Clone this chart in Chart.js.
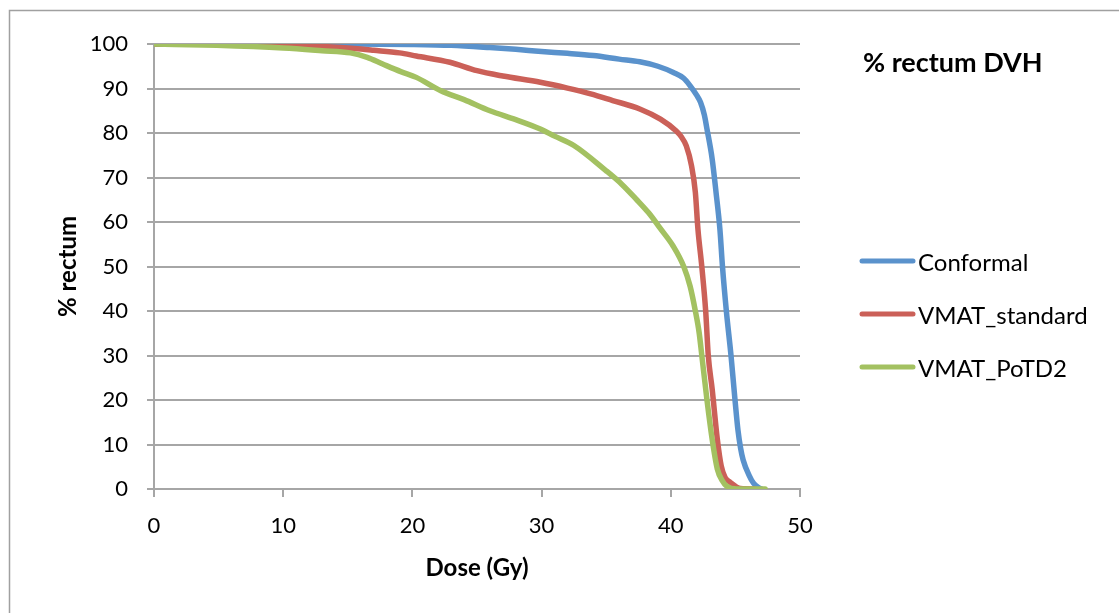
<!DOCTYPE html>
<html>
<head>
<meta charset="utf-8">
<script src="https://cdn.jsdelivr.net/npm/chart.js@4"></script>
<style>
  html, body { margin: 0; padding: 0; background: #fff; }
  #wrap { width: 1119px; height: 613px; position: relative; }
</style>
</head>
<body>
<div id="wrap"><canvas id="myChart"></canvas></div>
<script>
// DVH curves: [dose Gy, % rectum]
var conformal = [
  [0,100],[10,100],[15,100],[20,99.9],[23,99.7],[26,99.2],[28,98.8],[30,98.3],
  [32,97.9],[34,97.4],[36,96.6],[37.6,96.0],[39,95.0],[40.2,93.6],[41,92.3],
  [41.5,90.6],[42,88.5],[42.3,86.9],[42.6,84.0],[42.8,80.9],[43.2,74.2],
  [43.5,66.7],[43.8,58.4],[44.0,50],[44.3,40],[44.66,30],[44.97,20],
  [45.2,13.2],[45.4,9.2],[45.6,6.5],[46.07,3.0],[46.4,1.3],[46.75,0.4],[47.0,0]
];
var vmatStandard = [
  [0,100],[5,100],[8.7,99.8],[12.6,99.5],[15.5,99.0],[17,98.6],[19,98.0],
  [20.3,97.3],[22.9,95.9],[25,94.0],[27,92.8],[29.9,91.4],[32,90.1],[33.8,88.8],
  [35.5,87.3],[37.6,85.4],[39.2,83.1],[40.4,80.5],[40.8,79.2],[41.2,77.1],
  [41.6,72.7],[41.9,66.7],[42.1,58.4],[42.4,50],[42.7,40],[42.9,30],[43.2,22.5],
  [43.6,11.2],[43.9,5.2],[44.2,2.6],[44.6,1.5],[45.4,0.1],[46.5,0]
];
var vmatPotd2 = [
  [0,100],[4.85,99.7],[10,99.1],[13,98.5],[15.2,98.0],[16.5,97.0],[17.7,95.5],
  [19.1,93.8],[20.3,92.5],[22.2,89.5],[24,87.5],[26,85.0],[28,83.0],[29.9,80.9],
  [31,79.3],[32.5,77.2],[35,71.5],[36.2,68.5],[37.3,65.2],[38.3,62.0],[39.2,58.5],
  [40.2,54.5],[41,50],[41.5,45.5],[41.9,40],[42.2,35],[42.4,30],[42.8,20],
  [43.2,11.2],[43.6,4.5],[44.0,1.8],[44.3,0.7],[45.1,0],[47.3,0]
];
var seriesNames = ['Conformal', 'VMAT_standard', 'VMAT_PoTD2'];
var seriesColors = ['#5A92CC', '#CB6058', '#A3C161'];
var xTicks = [0, 10, 20, 30, 40, 50];
var yTicks = [0, 10, 20, 30, 40, 50, 60, 70, 80, 90, 100];
var chartTitle = '% rectum DVH';

function toPoints(arr) {
  return arr.map(function (p) { return { x: p[0], y: p[1] }; });
}

var FONT = 'Lato';
var gridGray = '#a6a6a6';

// outer frame of the chart object
var framePlugin = {
  id: 'frame',
  beforeDraw: function (chart) {
    var c = chart.ctx;
    c.save();
    c.strokeStyle = '#a0a0a0';
    c.lineWidth = 1.5;
    c.beginPath();
    c.moveTo(9.5, chart.height);
    c.lineTo(9.5, 10.5);
    c.lineTo(chart.width, 10.5);
    c.stroke();
    c.restore();
  }
};

// title + legend drawn at the right of the plot, like excel does
var sideLegend = {
  id: 'sideLegend',
  afterDraw: function (chart) {
    var c = chart.ctx;
    var left = chart.chartArea.right + 60;
    c.save();
    c.fillStyle = '#000';
    c.textBaseline = 'middle';
    c.textAlign = 'left';
    c.font = 'bold 27px ' + FONT;
    c.fillText(chartTitle, left + 3, 63);
    c.font = '24px ' + FONT;
    chart.data.datasets.forEach(function (ds, i) {
      var y = 261 + i * 53;
      c.strokeStyle = ds.borderColor;
      c.lineWidth = 5;
      c.lineCap = 'round';
      c.beginPath();
      c.moveTo(left + 2, y);
      c.lineTo(left + 53, y);
      c.stroke();
      c.fillText(ds.label, left + 58, y + 2);
    });
    c.restore();
  }
};

var datasets = [conformal, vmatStandard, vmatPotd2].map(function (d, i) {
  return {
    label: seriesNames[i],
    data: toPoints(d),
    borderColor: seriesColors[i],
    backgroundColor: seriesColors[i],
    borderWidth: 5.5,
    pointRadius: 0,
    cubicInterpolationMode: 'monotone',
    borderCapStyle: 'round',
    order: 2 - i
  };
});

var ctx = document.getElementById('myChart').getContext('2d');
var myChart = new Chart(ctx, {
  type: 'line',
  data: { datasets: datasets },
  options: {
    responsive: true,
    maintainAspectRatio: false,
    animation: false,
    layout: { padding: { left: 30, right: 319, top: 44, bottom: 30 } },
    plugins: {
      legend: { display: false },
      tooltip: { enabled: false }
    },
    scales: {
      x: {
        type: 'linear',
        min: 0, max: 50,
        afterBuildTicks: function (s) { s.ticks = xTicks.map(function (v) { return { value: v }; }); },
        afterFit: function (s) { s.height = 94; },
        ticks: { color: '#000', font: { family: FONT, size: 22 }, padding: 16, maxRotation: 0 },
        grid: { drawOnChartArea: false, tickLength: 8, color: gridGray, lineWidth: 2 },
        border: { color: gridGray, width: 2 },
        title: {
          display: true, text: 'Dose (Gy)', color: '#000',
          font: { family: FONT, size: 24, weight: 'bold' },
          padding: { top: 0, bottom: 0 }
        }
      },
      y: {
        min: 0, max: 100,
        afterBuildTicks: function (s) { s.ticks = yTicks.map(function (v) { return { value: v }; }); },
        afterFit: function (s) { s.width = 124; },
        ticks: { color: '#000', font: { family: FONT, size: 22 }, padding: 19 },
        grid: { color: gridGray, lineWidth: 2, tickLength: 7 },
        border: { color: gridGray, width: 2 },
        title: {
          display: true, text: '% rectum', color: '#000',
          font: { family: FONT, size: 24, weight: 'bold' },
          padding: { top: 24, bottom: 0 }
        }
      }
    }
  },
  plugins: [framePlugin, sideLegend]
});
</script>
</body>
</html>
